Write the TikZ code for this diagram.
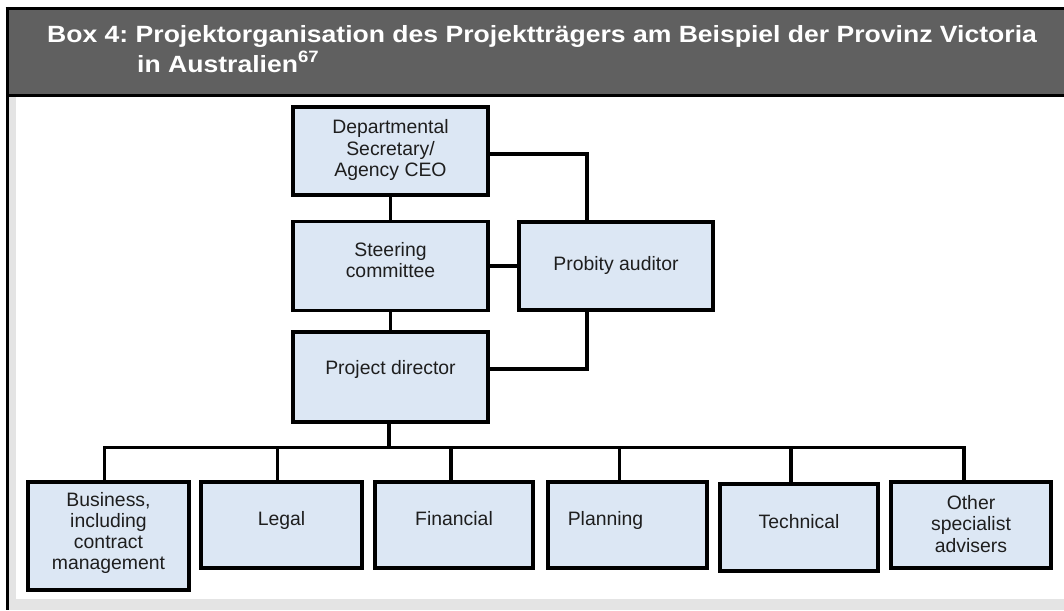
\documentclass[tikz,border=0pt]{standalone}
\usepackage{fontspec}
\setmainfont{Liberation Sans}
\usepackage{graphicx}
\usetikzlibrary{calc}
\definecolor{headgray}{RGB}{96,96,96}
\definecolor{margingray}{RGB}{228,228,228}
\definecolor{boxfill}{RGB}{220,231,244}
\definecolor{ink}{RGB}{30,30,30}

\begin{document}
\frenchspacing
\begin{tikzpicture}[x=1pt,y=-1pt,
  orgbox/.style={draw=black, line width=3.7pt, fill=boxfill, inner sep=0pt},
  link/.style={draw=black, line width=3.3pt},
  lbl/.style={text=ink, align=center, inner sep=0pt,
    font=\fontsize{19.4}{21.2}\selectfont},
  headtext/.style={anchor=base west, text=white, inner sep=0pt,
    font=\fontsize{23.5}{28}\selectfont\bfseries},
]
\useasboundingbox (0,0) rectangle (1064,610);

% frame, header band and panel
\fill[white] (0,0) rectangle (1064,610);
\fill[margingray] (7,96) rectangle (1064,610);
\fill[white] (16,97) rectangle (1064,599);
\fill[headgray] (7,8.5) rectangle (1064,95.5);
\draw[line width=2.7pt] (5.5,8.5) -- (1064,8.5);
\draw[line width=3pt] (7,7) -- (7,610);
\draw[line width=2.7pt] (7,95.5) -- (1064,95.5);

% heading
\node[headtext] (title1) at (47,43)
  {\scalebox{1.13}[1]{Box 4: Projektorganisation des Projektträgers am Beispiel der Provinz Victoria}};
\node[headtext] (title2) at (137,72)
  {\scalebox{1.13}[1]{in Australien\textsuperscript{67}}};

% upper hierarchy
\node[orgbox, minimum width=195pt, minimum height=88pt] (dept)  at (390.5,151)   {};
\node[orgbox, minimum width=195pt, minimum height=89pt] (steer) at (390.5,266)   {};
\node[orgbox, minimum width=194pt, minimum height=88pt] (prob)  at (616,266)     {};
\node[orgbox, minimum width=195pt, minimum height=90pt] (pd)    at (390.5,377)   {};

\node[lbl] (deptT)  at ($(dept.center)+(0,-1)$)  {Departmental\\Secretary/\\Agency CEO};
\node[lbl] (steerT) at ($(steer.center)+(0,-6)$) {Steering\\committee};
\node[lbl] (probT)  at ($(prob.center)+(0,-1)$)  {Probity auditor};
\node[lbl] (pdT)    at ($(pd.center)+(0,-8)$)    {Project director};

% advisory groups
\node[orgbox, minimum width=161pt, minimum height=108pt] (busn)  at (108.5,536)   {};
\node[orgbox, minimum width=161pt, minimum height=86pt]  (legal) at (281.5,525)   {};
\node[orgbox, minimum width=158pt, minimum height=86pt]  (fin)   at (454,525)     {};
\node[orgbox, minimum width=159pt, minimum height=86pt]  (plan)  at (627.5,525)   {};
\node[orgbox, minimum width=158pt, minimum height=87pt]  (tech)  at (799,527.5)   {};
\node[orgbox, minimum width=160pt, minimum height=86pt]  (other) at (971,525)     {};

\node[lbl] (busnT)  at ($(busn.center)+(0,-3)$)   {Business,\\including\\contract\\management};
\node[lbl] (legalT) at ($(legal.center)+(0,-5)$)  {Legal};
\node[lbl] (finT)   at ($(fin.center)+(0,-6)$)    {Financial};
\node[lbl] (planT)  at ($(plan.center)+(-22,-5)$) {Planning};
\node[lbl] (techT)  at ($(tech.center)+(0,-6)$)   {Technical};
\node[lbl] (otherT) at ($(other.center)+(0,-1)$)  {Other\\specialist\\advisers};

% connectors
\coordinate (j1) at (587,154);
\coordinate (j3) at (587,369);
\coordinate (hub) at (389,447.5);

\draw[link] (dept.south) -- (steer.north);
\draw[link] (steer.south) -- (pd.north);
\draw[link] (steer.east) -- (prob.west);
\draw[link] (dept.east |- j1) -- (j1) -- (prob.north -| j1);
\draw[link] (prob.south -| j3) -- (j3) -- (pd.east |- j3);

\draw[link] (pd.south -| hub) -- (hub);
\draw[link, line join=miter] ([xshift=-4pt]busn.north) |- (hub) -| ([xshift=-7pt]other.north);
\draw[link] (hub) -| ([xshift=-4pt]legal.north);
\draw[link] (hub) -| ([xshift=-3pt]fin.north);
\draw[link] (hub) -| ([xshift=-8pt]plan.north);
\draw[link] (hub) -| ([xshift=-8pt]tech.north);
\end{tikzpicture}
\end{document}
